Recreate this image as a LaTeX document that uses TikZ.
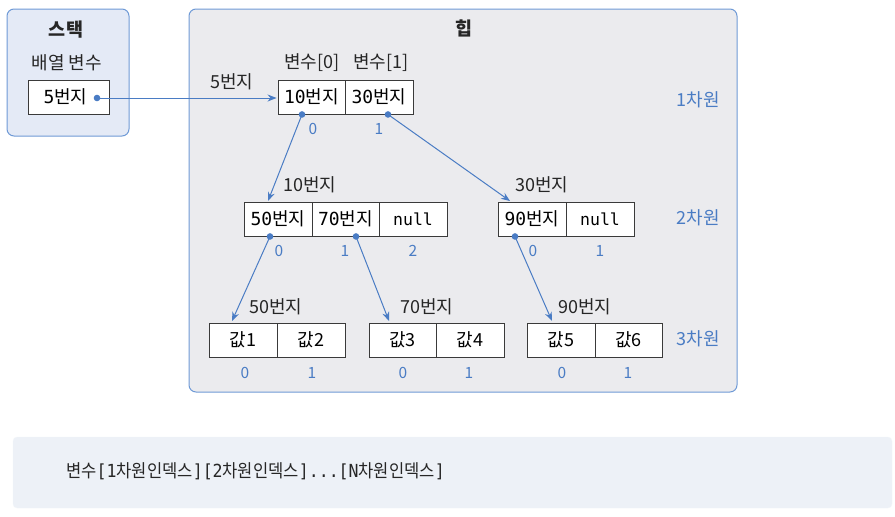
\documentclass[tikz,border=0pt]{standalone}
\usepackage{fontspec}
\setmainfont{Noto Sans CJK KR}
\newfontfamily\monofnt{DejaVu Sans Mono}
\usetikzlibrary{arrows.meta,calc}
\definecolor{bblue}{HTML}{4A7CC4}
\definecolor{bordblue}{HTML}{6F9AD6}
\definecolor{stackfill}{HTML}{E4EAF6}
\definecolor{heapfill}{HTML}{EBEBEE}
\definecolor{botfill}{HTML}{EDF1F7}
\definecolor{cellline}{HTML}{3A3A3A}
\tikzset{
  cell/.style={draw=cellline, line width=0.9pt, fill=white, minimum width=68, minimum height=34, inner sep=0pt, font=\fontsize{18}{20}\selectfont},
  lbl/.style={font=\fontsize{18}{20}\selectfont, text=black!85, inner sep=0pt},
  idx/.style={font=\fontsize{15.5}{17}\selectfont, text=bblue, inner sep=0pt},
  dim/.style={font=\fontsize{18}{20}\selectfont, text=bblue, inner sep=0pt},
  ptr/.style={draw=bblue, line width=1pt, -{Stealth[length=9pt,width=7pt]}},
}
\newcommand{\mn}[1]{{\monofnt #1}}
\newcommand{\nul}{{\fontsize{16.5}{18}\selectfont\monofnt null}}
\begin{document}
\begin{tikzpicture}[x=1pt,y=-1pt]
\useasboundingbox (0,0) rectangle (895,517);
% stack
\node[draw=bordblue, line width=1pt, fill=stackfill, rounded corners=7pt, minimum width=122, minimum height=127, inner sep=0pt] (stack) at (68,72.5) {};
\node[lbl, font=\fontsize{18.5}{20}\selectfont\bfseries] (stacktitle) at (66,30) {스택};
\node[lbl] (arrvar) at (67,63) {배열 변수};
\node[cell, minimum width=81] (s5) at (68.5,97) {\hspace*{-6pt}\mn{5}번지};
% heap
\node[draw=bordblue, line width=1pt, fill=heapfill, rounded corners=7pt, minimum width=548, minimum height=383, inner sep=0pt] (heap) at (463,200.5) {};
\node[lbl, font=\fontsize{18.5}{20}\selectfont\bfseries] (heaptitle) at (464,28) {힙};
% level 1
\node[cell, minimum width=67] (c10) at (311.5,97) {\mn{10}번지};
\node[cell, minimum width=68] (c30) at (379,97) {\mn{30}번지};
\node[lbl] (v0) at (312,63) {변수[0]};
\node[lbl] (v1) at (381,63) {변수[1]};
\node[lbl] (l5) at (232,82) {5번지};
\node[dim] (d1) at (698,100) {1차원};
\node[idx] (i10) at (313,129) {0};
\node[idx] (i11) at (379,129) {1};
% level 2
\node[cell] (c50) at (278,219) {\mn{50}번지};
\node[cell, minimum width=67] (c70) at (345.5,219) {\mn{70}번지};
\node[cell] (n1) at (413,219) {\nul};
\node[cell] (c90) at (532,219) {\mn{90}번지};
\node[cell] (n2) at (600,219) {\nul};
\node[lbl] (l10) at (310,185) {10번지};
\node[lbl] (l30) at (542,185) {30번지};
\node[dim] (d2) at (698,218) {2차원};
\node[idx] (i20) at (279,251) {0};
\node[idx] (i21) at (345,251) {1};
\node[idx] (i22) at (413,251) {2};
\node[idx] (i23) at (533,251) {0};
\node[idx] (i24) at (600,251) {1};
% level 3
\node[cell] (g1) at (243,340) {값1};
\node[cell] (g2) at (311,340) {값2};
\node[cell, minimum width=67] (g3) at (402.5,340) {값3};
\node[cell] (g4) at (470,340) {값4};
\node[cell] (g5) at (561,340) {값5};
\node[cell, minimum width=67] (g6) at (628.5,340) {값6};
\node[lbl] (l50) at (276,307) {50번지};
\node[lbl] (l70) at (427,307) {70번지};
\node[lbl] (l90) at (585,307) {90번지};
\node[dim] (d3) at (698,339) {3차원};
\node[idx] (i30) at (245,373) {0};
\node[idx] (i31) at (312,373) {1};
\node[idx] (i32) at (403,373) {0};
\node[idx] (i33) at (469,373) {1};
\node[idx] (i34) at (562,373) {0};
\node[idx] (i35) at (628,373) {1};
% pointer dots
\coordinate (p5) at (97,98);
\coordinate (p10) at ($(c10.south)+(-9.5,0)$);
\coordinate (p30) at ($(c30.south)+(9,0)$);
\coordinate (p50) at ($(c50.south)+(-8,0)$);
\coordinate (p70) at ($(c70.south)+(10.5,0)$);
\coordinate (p90) at ($(c90.south)+(-17,0)$);
% arrow ends
\coordinate (e10) at ($(c10.west)+(-1,1)$);
\coordinate (e50) at (268,201);
\coordinate (e90) at (510,201);
\coordinate (eg1) at (232,321);
\coordinate (eg3) at (389,321);
\coordinate (eg5) at (552,321);
\draw[ptr] (p5) -- (e10);
\draw[ptr] (p10) -- (e50);
\draw[ptr] (p30) -- (e90);
\draw[ptr] (p50) -- (eg1);
\draw[ptr] (p70) -- (eg3);
\draw[ptr] (p90) -- (eg5);
\foreach \p in {p5,p10,p30,p50,p70,p90} \fill[bblue] (\p) circle (3.3);
% bottom box
\node[fill=botfill, draw=botfill!70!white, rounded corners=4pt, minimum width=879, minimum height=71, inner sep=0pt] (bottom) at (452.5,472.5) {};
\node[anchor=west, inner sep=0pt, font=\fontsize{18}{20}\selectfont, text=black!85] (formula) at (66,471) {\scalebox{0.92}[1]{변수\mn{[1}차원인덱스\mn{][2}차원인덱스\mn{]...[N}차원인덱스\mn{]}}};
\end{tikzpicture}
\end{document}
